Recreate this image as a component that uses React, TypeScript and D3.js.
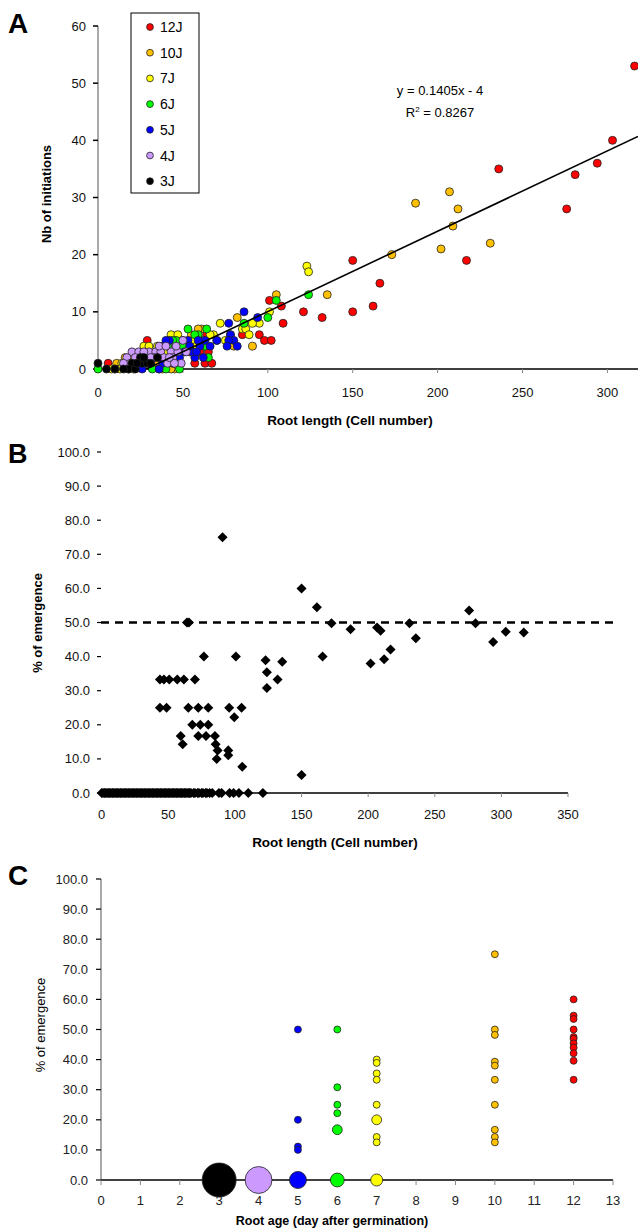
import React from 'react';
import * as d3 from 'd3';

// ---------- Panel A data ----------
const legendLabels = ['12J', '10J', '7J', '6J', '5J', '4J', '3J'];
const seriesColors = ['#FF0000', '#FFC000', '#FFFF00', '#00FF00', '#0000FF', '#CC99FF', '#000000'];

const a12J: [number, number][] = [[316, 53], [303, 40], [294, 36], [281, 34], [276, 28], [236, 35], [217, 19], [166, 15], [162, 11], [150, 19], [150, 10], [132, 9], [121, 10], [109, 8], [108, 11], [101, 12], [95, 6], [98, 5], [102, 5], [85, 6], [64, 6], [60, 3], [65, 3], [63, 1], [67, 1], [57, 1], [29, 5], [6, 1]];
const a10J: [number, number][] = [[207, 31], [187, 29], [212, 28], [209, 25], [202, 21], [231, 22], [173, 20], [135, 13], [105, 13], [82, 9], [91, 4], [80, 4], [61, 7], [59, 7], [11, 1], [18, 0], [45, 0], [38, 0], [30, 2], [52, 4], [22, 2], [43, 0], [25, 1], [48, 1], [55, 6], [34, 1], [16, 2]];
const a7J: [number, number][] = [[123, 18], [124, 17], [72, 8], [95, 8], [91, 8], [85, 7], [87, 7], [89, 6], [68, 6], [70, 5], [43, 6], [47, 6], [27, 4], [35, 4], [8, 0], [10, 0], [21, 0], [50, 5], [56, 5], [58, 4], [101, 10], [78, 6], [40, 3], [31, 1], [14, 1], [24, 2], [54, 3], [62, 5], [75, 5], [30, 4], [13, 0], [36, 0], [46, 2], [66, 6], [19, 2]];
const a6J: [number, number][] = [[124, 13], [105, 12], [100, 9], [86, 8], [53, 7], [64, 7], [59, 6], [41, 4], [46, 5], [32, 0], [40, 0], [0, 0], [65, 2], [50, 4], [57, 6], [44, 5], [48, 0], [63, 4]];
const a5J: [number, number][] = [[94, 9], [86, 10], [77, 8], [78, 6], [80, 5], [77, 5], [76, 4], [82, 4], [38, 4], [42, 5], [53, 5], [57, 2], [62, 2], [60, 4], [66, 4], [45, 3], [35, 3], [30, 2], [48, 2], [26, 0], [55, 3], [70, 5], [38, 1], [51, 3], [44, 1], [58, 3], [54, 4], [40, 5], [33, 2], [63, 5], [36, 0], [59, 5]];
const a4J: [number, number][] = [[20, 3], [24, 3], [30, 3], [34, 3], [37, 3], [43, 3], [17, 2], [22, 2], [26, 2], [33, 2], [39, 2], [44, 2], [19, 1], [28, 1], [41, 1], [47, 3], [50, 5], [46, 4], [36, 4], [15, 1], [49, 1], [27, 3], [31, 2], [40, 4], [23, 1], [45, 1], [42, 2], [52, 3]];
const a3J: [number, number][] = [[0, 1], [20, 1], [26, 1], [29, 1], [25, 2], [18, 0], [35, 2], [22, 0], [10, 0], [5, 0], [27, 2], [23, 1], [31, 1], [15, 0]];
const aSeries = [a12J, a10J, a7J, a6J, a5J, a4J, a3J];

const trendSlope = 0.1405;
const trendIntercept = -4;
const aXTicks = [0, 50, 100, 150, 200, 250, 300];
const aYTicks = [0, 10, 20, 30, 40, 50, 60];

// ---------- Panel B data ----------
const bNonZero: [number, number][] = [
  [90.7, 75], [150, 60], [161.5, 54.5], [64, 50], [65.5, 50], [172.5, 49.8], [186.8, 48], [206.7, 48.5], [209.3, 47.6],
  [231, 49.8], [235.8, 45.4], [201.8, 38], [212, 39.2], [216.8, 42.1], [165.8, 40], [275.8, 53.5], [280.6, 49.8],
  [293.8, 44.3], [303.3, 47.3], [316.8, 47.1],
  [76.7, 40], [100.7, 40], [123, 38.9], [124, 35.4], [124, 30.8], [132, 33.3], [135.5, 38.5],
  [43.7, 33.3], [46.7, 33.3], [50.7, 33.3], [56.7, 33.3], [61.7, 33.3], [70, 33.3],
  [43.7, 25], [48.7, 25], [65, 25], [72.5, 25], [80, 25], [95.7, 25], [105, 25],
  [68, 20], [74, 20], [80, 20],
  [59.3, 16.7], [72.5, 16.7], [78.3, 16.7], [85, 16.7], [60.8, 14.3], [85.5, 14.3],
  [87, 12.5], [95, 12.5], [86.3, 10], [95, 11.1], [99.5, 22.2], [105.5, 7.7], [150, 5.3]
];
const bZeroX: number[] = [0, 1, 2, 3, 4, 5, 6, 7, 8, 9, 10, 11, 12, 13, 14, 15, 16, 17, 18, 19, 20, 21, 22, 23, 24, 25, 26, 27, 28, 29, 30, 31, 32, 33, 34, 35, 36, 37, 38, 39, 40, 41, 42, 43, 44, 45, 46, 47, 48, 49, 50, 51, 52, 53, 54, 55, 56, 57, 58, 59, 60, 61, 62, 63, 64, 65, 66, 67, 69, 70, 72, 73, 75, 76, 78, 79, 81, 83, 88, 90, 96, 99, 103, 110, 121];
const bThreshold = 50;
const bXTicks = [0, 50, 100, 150, 200, 250, 300, 350];
const bYTicks = [0, 10, 20, 30, 40, 50, 60, 70, 80, 90, 100];

// ---------- Panel C data ----------
// [age (days), % emergence, number of roots]
const cPoints: [number, number, number][] = [
  [3, 0, 24],
  [4, 0, 15],
  [5, 0, 6], [5, 50, 1], [5, 20, 1], [5, 11.1, 1], [5, 10, 1],
  [6, 0, 4], [6, 50, 1], [6, 30.8, 1], [6, 25, 1], [6, 22.2, 1], [6, 16.7, 2],
  [7, 0, 3], [7, 40, 1], [7, 38.9, 1], [7, 35.4, 1], [7, 33.3, 1], [7, 25, 1], [7, 20, 2], [7, 14.3, 1], [7, 12.5, 1],
  [10, 75, 1], [10, 50, 1], [10, 48.2, 1], [10, 39.3, 1], [10, 38, 1], [10, 33.3, 1], [10, 25, 1], [10, 16.7, 1], [10, 14.3, 1], [10, 12.5, 1],
  [12, 60, 1], [12, 54.6, 1], [12, 53.5, 1], [12, 50, 1], [12, 47.5, 1], [12, 46.9, 1], [12, 45.4, 1], [12, 44, 1], [12, 42.1, 1], [12, 39.6, 1], [12, 33.3, 1]
];
const cAgeColors: Record<number, string> = { 3: '#000000', 4: '#CC99FF', 5: '#0000FF', 6: '#00FF00', 7: '#FFFF00', 10: '#FFC000', 12: '#FF0000' };
const cXTicks = [0, 1, 2, 3, 4, 5, 6, 7, 8, 9, 10, 11, 12, 13];
const cYTicks = [0, 10, 20, 30, 40, 50, 60, 70, 80, 90, 100];

const FONT = '"Liberation Sans", Arial, sans-serif';

export default function App() {
  // Panel A scales
  const ax = d3.scaleLinear().domain([0, 318]).range([98, 638]);
  const ay = d3.scaleLinear().domain([0, 60]).range([369, 26]);
  const trendX0 = -trendIntercept / trendSlope;
  const trendX1 = 318;
  const trendPath = d3.line<number>().x((d) => ax(d)).y((d) => ay(trendSlope * d + trendIntercept))([trendX0, trendX1]) || '';

  // Panel B scales
  const bx = d3.scaleLinear().domain([0, 350]).range([101.7, 568]);
  const by = d3.scaleLinear().domain([0, 100]).range([793, 452]);
  const diamond = d3.symbol().type(d3.symbolDiamond2).size(64)() || '';

  // Panel C scales
  const cx = d3.scaleLinear().domain([0, 13]).range([101, 613]);
  const cy = d3.scaleLinear().domain([0, 100]).range([1180, 879]);
  const cr = d3.scaleSqrt().domain([0, 24]).range([0, 17]);
  const cSorted = [...cPoints].sort((a, b) => b[2] - a[2]);

  return (
    <div style={{ position: 'absolute', left: 0, top: 0 }}>
      <svg width={638} height={1231} style={{ display: 'block', background: '#fff' }} fontFamily={FONT}>
        {/* ================= Panel A ================= */}
        <text x={8} y={33} fontSize={28} fontWeight="bold">A</text>
        {/* y axis */}
        <line x1={98} x2={98} y1={ay(60)} y2={ay(0)} stroke="#8c8c8c" strokeWidth={1.5} />
        {aYTicks.map((t) => (
          <g key={'ayt' + t}>
            <line x1={93} x2={98} y1={ay(t)} y2={ay(t)} stroke="#000" strokeWidth={1.5} />
            <text x={86} y={ay(t) + 4.5} fontSize={13} textAnchor="end" fill="#111">{t}</text>
          </g>
        ))}
        {/* x axis */}
        <line x1={98} x2={638} y1={ay(0)} y2={ay(0)} stroke="#000" strokeWidth={1.5} />
        {aXTicks.map((t) => (
          <g key={'axt' + t}>
            <line x1={ax(t)} x2={ax(t)} y1={ay(0)} y2={ay(0) + 4} stroke="#888" strokeWidth={1} />
            <text x={ax(t)} y={397} fontSize={13} textAnchor="middle" fill="#111">{t}</text>
          </g>
        ))}
        <text x={350} y={425} fontSize={13.5} fontWeight="bold" textAnchor="middle">Root length (Cell number)</text>
        <text transform="translate(51,194) rotate(-90)" fontSize={13} fontWeight="bold" textAnchor="middle">Nb of initiations</text>
        {/* points */}
        {aSeries.map((s, i) => (
          <g key={'as' + i}>
            {s.map((p, j) => (
              <circle key={j} cx={ax(p[0])} cy={ay(p[1])} r={4} fill={seriesColors[i]} stroke="#222" strokeWidth={0.8} />
            ))}
          </g>
        ))}
        {/* trend line */}
        <path d={trendPath} stroke="#000" strokeWidth={1.6} fill="none" />
        <text x={440} y={95} fontSize={13} textAnchor="middle">y = 0.1405x - 4</text>
        <text x={440} y={117} fontSize={13} textAnchor="middle">R<tspan dy={-5} fontSize={8}>2</tspan><tspan dy={5}> = 0.8267</tspan></text>
        {/* legend */}
        <rect x={131} y={13} width={68} height={180} fill="#fff" stroke="#000" strokeWidth={1} />
        {legendLabels.map((l, i) => (
          <g key={'lg' + l}>
            <circle cx={150} cy={27 + i * 25.7} r={3.4} fill={seriesColors[i]} stroke="#222" strokeWidth={0.8} />
            <text x={160} y={27 + i * 25.7 + 5} fontSize={14}>{l}</text>
          </g>
        ))}

        {/* ================= Panel B ================= */}
        <text x={8} y={463} fontSize={27} fontWeight="bold">B</text>
        {bYTicks.map((t) => (
          <g key={'byt' + t}>
            <line x1={97} x2={101} y1={by(t)} y2={by(t)} stroke="#000" strokeWidth={1.2} />
            <text x={90} y={by(t) + 4.5} fontSize={13} textAnchor="end" fill="#111">{t.toFixed(1)}</text>
          </g>
        ))}
        <line x1={101.7} x2={568} y1={by(0)} y2={by(0)} stroke="#000" strokeWidth={1.5} />
        {bXTicks.map((t) => (
          <g key={'bxt' + t}>
            <line x1={bx(t)} x2={bx(t)} y1={by(0)} y2={by(0) + 4} stroke="#888" strokeWidth={1} />
            <text x={bx(t)} y={819} fontSize={13} textAnchor="middle" fill="#111">{t}</text>
          </g>
        ))}
        <text x={335} y={847} fontSize={13.5} fontWeight="bold" textAnchor="middle">Root length (Cell number)</text>
        <text transform="translate(42,623) rotate(-90)" fontSize={13} fontWeight="bold" textAnchor="middle">% of emergence</text>
        <line x1={101} x2={617} y1={by(bThreshold)} y2={by(bThreshold)} stroke="#000" strokeWidth={2.5} strokeDasharray="8,6" />
        {bZeroX.map((v, i) => (
          <path key={'bz' + i} d={diamond} transform={`translate(${bx(v)},${by(0)})`} fill="#000" />
        ))}
        {bNonZero.map((p, i) => (
          <path key={'bn' + i} d={diamond} transform={`translate(${bx(p[0])},${by(p[1])})`} fill="#000" />
        ))}

        {/* ================= Panel C ================= */}
        <text x={8} y={885} fontSize={28} fontWeight="bold">C</text>
        <line x1={101} x2={101} y1={cy(100)} y2={cy(0)} stroke="#8c8c8c" strokeWidth={1.5} />
        {cYTicks.map((t) => (
          <g key={'cyt' + t}>
            <line x1={96} x2={101} y1={cy(t)} y2={cy(t)} stroke="#000" strokeWidth={1.2} />
            <text x={88} y={cy(t) + 4.5} fontSize={13} textAnchor="end" fill="#222">{t.toFixed(1)}</text>
          </g>
        ))}
        <line x1={101} x2={613} y1={cy(0)} y2={cy(0)} stroke="#000" strokeWidth={1.5} />
        {cXTicks.map((t) => (
          <g key={'cxt' + t}>
            <line x1={cx(t)} x2={cx(t)} y1={cy(0)} y2={cy(0) + 5} stroke="#888" strokeWidth={1} />
            <text x={cx(t)} y={1205} fontSize={13} textAnchor="middle" fill="#222">{t}</text>
          </g>
        ))}
        <text x={332} y={1225} fontSize={12.5} fontWeight="bold" textAnchor="middle">Root age (day after germination)</text>
        <text transform="translate(45,1025) rotate(-90)" fontSize={13} textAnchor="middle">% of emergence</text>
        {cSorted.map((p, i) => (
          <circle key={'cp' + i} cx={cx(p[0])} cy={cy(p[1])} r={cr(p[2])} fill={cAgeColors[p[0]]} stroke="#222" strokeWidth={0.8} />
        ))}
      </svg>
    </div>
  );
}
